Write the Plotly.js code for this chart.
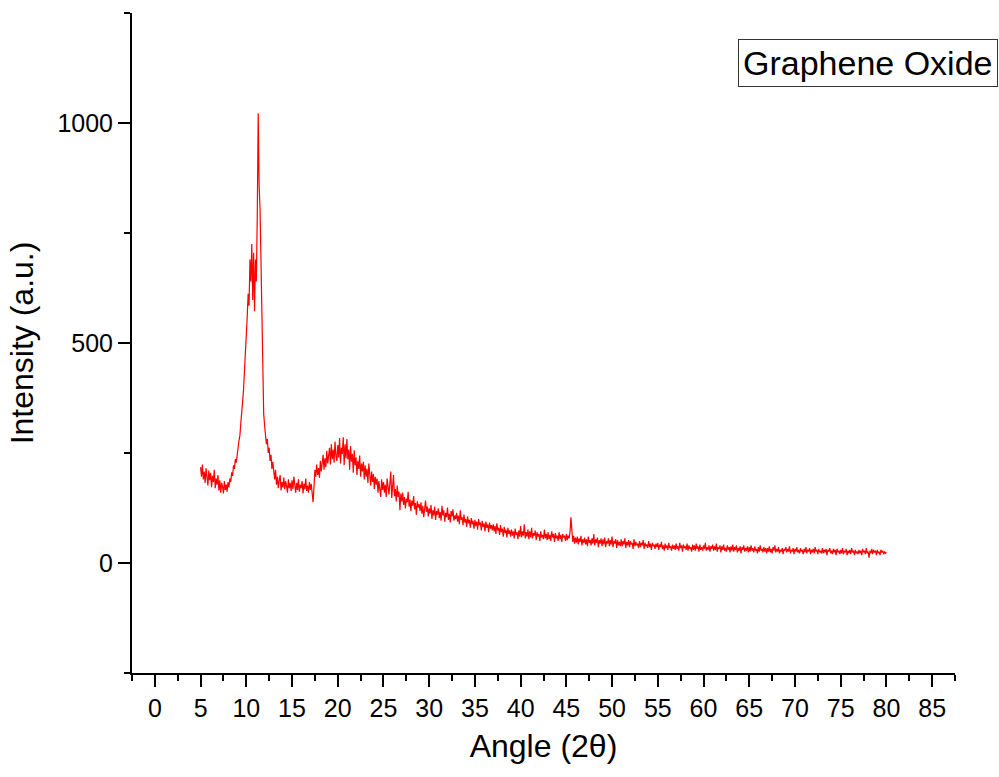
<!DOCTYPE html>
<html>
<head>
<meta charset="utf-8">
<script src="https://cdn.plot.ly/plotly-3.0.1.min.js"></script>
<style>
  html, body { margin: 0; padding: 0; background: #ffffff; }
  #chart { width: 999px; height: 777px; }
</style>
</head>
<body>
<div id="chart"></div>
<script>
// Scan grid (degrees 2θ): first angle and step of the measurement
const angleStart = 5.0;
const angleStep = 0.1;

// Intensity (a.u.), 20 points (2°) per row
const intensity = [
  218,196,224,190,208,182,215,201,176,210,188,205,172,198,184,212,170,192,178,200,   // 5.0
  165,188,160,182,174,158,186,166,178,162,184,172,192,184,206,198,222,214,236,228,   // 7.0
  252,262,278,290,318,336,368,395,430,468,515,560,612,585,690,640,725,598,705,572,   // 9.0
  690,640,790,1022,860,805,690,560,390,340,312,296,270,282,250,262,232,246,214,230,  // 11.0
  205,190,212,178,196,170,188,200,165,184,172,194,168,186,176,160,190,170,182,164,   // 13.0
  188,168,196,172,160,182,166,190,162,178,170,186,158,180,168,192,164,176,160,184,   // 15.0
  166,180,152,138,172,212,196,224,200,216,194,232,208,226,246,212,238,218,255,226,   // 17.0
  242,262,224,270,236,258,228,276,244,232,268,240,284,226,262,248,286,222,270,238,   // 19.0
  282,236,258,212,266,230,248,205,256,222,240,200,232,214,244,196,226,208,230,190,   // 21.0
  222,196,214,182,226,190,176,208,184,202,168,196,178,192,160,186,172,150,190,166,   // 23.0
  184,160,178,150,192,168,156,180,208,148,172,200,152,168,140,176,150,162,120,158,   // 25.0
  140,160,132,150,124,146,138,162,128,144,118,142,130,152,122,136,110,140,126,134,   // 27.0
  118,138,112,130,104,126,142,116,128,106,124,112,132,100,120,108,128,98,118,110,    // 29.0
  124,102,116,96,130,108,120,94,114,104,126,98,112,92,118,106,122,96,108,100,        // 31.0
  114,94,108,88,120,98,104,86,110,92,100,82,106,90,98,80,102,88,96,78,               // 33.0
  98,84,94,76,100,86,92,74,96,82,90,72,94,80,88,70,92,78,86,74,                      // 35.0
  88,72,84,66,90,74,80,64,86,70,78,60,82,68,76,58,80,66,74,60,                       // 37.0
  76,62,72,56,78,64,70,54,74,60,84,58,72,62,88,56,70,60,76,54,                       // 39.0
  72,58,80,56,68,62,74,52,70,60,66,50,72,58,64,54,76,56,66,52,                       // 41.0
  70,54,64,50,72,58,66,48,68,56,62,50,70,54,64,48,66,58,62,50,                       // 43.0
  66,52,62,56,70,104,68,48,62,44,58,46,60,42,56,48,62,40,54,46,                      // 45.0
  58,42,54,38,60,46,52,40,56,44,66,40,54,46,58,36,52,44,56,38,                       // 47.0
  54,42,58,36,50,44,56,38,52,42,60,36,50,44,54,34,52,40,48,38,                       // 49.0
  54,38,50,42,56,34,48,40,52,36,50,42,46,32,54,38,48,40,44,34,                       // 51.0
  50,36,46,40,52,32,46,38,42,34,50,36,44,30,46,38,42,32,44,36,                       // 53.0
  46,30,42,36,48,32,40,28,44,34,40,30,46,34,38,28,42,32,40,30,                       // 55.0
  44,32,38,28,46,34,40,26,42,34,38,30,44,28,40,32,36,26,42,30,                       // 57.0
  40,28,44,32,38,26,42,30,36,28,40,32,46,28,36,30,40,26,38,32,                       // 59.0
  42,28,38,30,44,26,36,32,40,24,38,30,42,28,34,26,40,30,36,24,                       // 61.0
  38,28,42,26,36,30,40,24,34,28,38,22,36,30,40,26,34,28,38,24,                       // 63.0
  36,26,40,28,34,24,38,28,32,22,36,26,40,28,32,24,36,26,34,22,                       // 65.0
  34,26,38,24,32,22,36,28,40,24,32,26,36,22,30,26,34,20,32,28,                       // 67.0
  36,24,32,26,38,22,30,26,34,20,32,26,36,24,30,22,34,26,30,20,                       // 69.0
  32,24,36,22,30,26,34,20,30,24,32,22,36,26,30,20,32,24,28,22,                       // 71.0
  34,22,30,24,32,18,30,26,34,22,28,20,32,24,30,18,32,24,28,20,                       // 73.0
  30,22,34,20,28,24,32,18,28,22,30,20,34,24,28,18,30,22,26,20,                       // 75.0
  30,22,28,18,32,24,28,20,34,22,26,12,28,22,32,20,30,24,28,18,                       // 77.0
  30,22,26,18,30,24,28,20,26,22,24                                                    // 79.0
];

const xTickVals = [0,5,10,15,20,25,30,35,40,45,50,55,60,65,70,75,80,85];
const yTickVals = [0,500,1000];
const seriesLabel = 'Graphene Oxide';
const xTitle = 'Angle (2θ)';
const yTitle = 'Intensity (a.u.)';

const angle = intensity.map((_, i) => Math.round((angleStart + angleStep * i) * 10) / 10);

const FONT = 'Liberation Sans, Arial, sans-serif';

const trace = {
  x: angle,
  y: intensity,
  type: 'scatter',
  mode: 'lines',
  line: { color: '#ff0000', width: 1.2 },
  hoverinfo: 'skip',
  showlegend: false
};

const axisCommon = {
  showgrid: false,
  zeroline: false,
  showline: true,
  linecolor: '#000000',
  linewidth: 2,
  ticks: 'outside',
  ticklen: 12,
  tickwidth: 2,
  tickcolor: '#000000',
  tickfont: { family: FONT, size: 25, color: '#000000' },
  tickmode: 'array'
};

const layout = {
  width: 999,
  height: 777,
  margin: { l: 132, r: 44, t: 13, b: 104 },
  paper_bgcolor: '#ffffff',
  plot_bgcolor: '#ffffff',
  font: { family: FONT, color: '#000000' },
  xaxis: Object.assign({}, axisCommon, {
    range: [-2.5, 87.5],
    tickvals: xTickVals,
    ticktext: xTickVals.map(String),
    minor: { dtick: 2.5, tick0: 0, ticks: 'outside', ticklen: 6, tickwidth: 2, tickcolor: '#000000', showgrid: false },
    title: { text: xTitle, font: { family: FONT, size: 32, color: '#000000' }, standoff: 14 }
  }),
  yaxis: Object.assign({}, axisCommon, {
    range: [-250, 1250],
    tickvals: yTickVals,
    ticktext: yTickVals.map(String),
    minor: { dtick: 250, tick0: 0, ticks: 'outside', ticklen: 6, tickwidth: 2, tickcolor: '#000000', showgrid: false },
    title: { text: yTitle, font: { family: FONT, size: 32, color: '#000000' }, standoff: 14 }
  }),
  annotations: [{
    text: seriesLabel,
    xref: 'paper', yref: 'paper',
    x: 1.0525, xanchor: 'right',
    y: 0.9606, yanchor: 'top',
    showarrow: false,
    font: { family: FONT, size: 34, color: '#000000' },
    bgcolor: '#ffffff',
    bordercolor: '#333333',
    borderwidth: 1,
    borderpad: 4
  }]
};

Plotly.newPlot('chart', [trace], layout, { staticPlot: true, displayModeBar: false });
</script>
</body>
</html>
